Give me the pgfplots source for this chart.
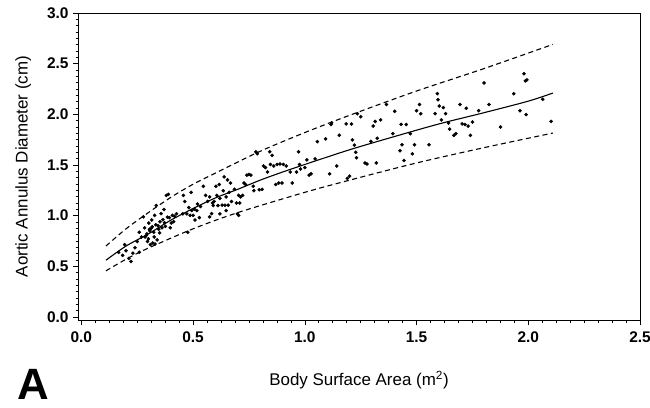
\documentclass[border=0pt]{standalone}
\usepackage{pgfplots}
\pgfplotsset{compat=1.18}
\usepackage{fontspec}
\setmainfont{Liberation Sans}
\begin{document}
\begin{tikzpicture}[x=1bp,y=1bp]
\path[use as bounding box] (0,0) rectangle (650,407);
\begin{axis}[
  at={(78bp,87bp)}, anchor=south west,
  scale only axis, width=562bp, height=307bp,
  xmin=-0.015, xmax=2.5, ymin=-0.03, ymax=3.0,
  xtick={0,0.5,1,1.5,2,2.5}, ytick={0,0.5,1,1.5,2,2.5,3},
  minor tick num=7,
  xtick pos=left, ytick pos=left,
  tick align=outside,
  major tick length=5bp, minor tick length=2.5bp,
  every tick/.style={black, line width=0.6bp},
  axis line style={line width=0.7bp},
  /pgf/number format/.cd, fixed, fixed zerofill, precision=1, assume math mode=true,
  /pgfplots/.cd,
  tick label style={font=\bfseries\fontsize{15.5}{17}\selectfont},
  xticklabel style={yshift=-3bp},
  yticklabel style={xshift=-1bp},
  xlabel={Body Surface Area (m\textsuperscript{2})},
  ylabel={Aortic Annulus Diameter (cm)},
  label style={font=\fontsize{17}{19}\selectfont},
  xlabel style={yshift=-22bp},
  ylabel style={yshift=9bp},
  clip=false,
]
\addplot[only marks, mark=*, mark size=1.6bp, black] coordinates {
(0.167,0.638)(0.185,0.608)(0.194,0.714)(0.200,0.653)(0.213,0.578)(0.222,0.547)
(0.231,0.630)(0.240,0.684)(0.250,0.745)(0.259,0.638)(0.259,0.836)(0.269,0.790)
(0.278,0.988)(0.283,0.880)(0.291,0.805)(0.296,0.745)(0.302,0.927)(0.306,0.851)
(0.309,0.714)(0.315,0.957)(0.317,0.890)(0.320,0.730)(0.324,0.836)(0.328,1.003)
(0.333,0.910)(0.335,1.100)(0.339,0.760)(0.346,0.866)(0.352,0.940)(0.357,1.020)
(0.361,0.880)(0.370,1.060)(0.376,0.895)(0.380,1.200)(0.389,1.210)(0.394,0.980)
(0.398,0.880)(0.407,1.003)(0.413,0.940)(0.417,0.994)(0.426,1.018)(0.402,0.927)
(0.285,0.790)(0.293,0.820)(0.305,0.865)(0.312,0.875)(0.326,0.790)(0.330,0.720)
(0.343,0.900)(0.350,0.830)(0.365,0.960)(0.372,0.930)(0.385,0.985)(0.300,0.770)
(0.454,1.018)(0.457,1.200)(0.463,1.140)(0.472,1.018)(0.476,0.836)(0.481,1.080)
(0.487,1.003)(0.491,1.230)(0.494,1.050)(0.500,1.003)(0.506,1.064)(0.509,0.957)
(0.517,1.050)(0.520,1.115)(0.528,0.980)(0.546,1.290)(0.556,1.200)(0.565,1.140)
(0.574,1.185)(0.583,1.020)(0.587,1.125)(0.594,1.140)(0.602,1.290)(0.606,1.200)
(0.611,1.100)(0.617,1.307)(0.620,1.170)(0.630,1.103)(0.635,1.246)(0.639,1.383)
(0.643,1.103)(0.648,1.185)(0.654,1.353)(0.657,1.103)(0.661,1.230)(0.667,1.322)
(0.672,1.140)(0.685,1.260)(0.694,1.125)(0.698,1.018)(0.704,1.200)(0.709,1.125)
(0.713,1.185)(0.722,1.200)(0.728,1.322)(0.735,1.307)(0.741,1.400)(0.750,1.407)
(0.759,1.400)(0.769,1.290)(0.772,1.246)(0.781,1.630)(0.787,1.610)(0.796,1.255)
(0.574,0.988)(0.620,1.018)(0.648,1.050)(0.704,1.003)(0.533,1.090)(0.590,1.100)
(0.809,1.260)(0.815,1.490)(0.824,1.474)(0.833,1.430)(0.843,1.630)(0.846,1.505)
(0.854,1.595)(0.861,1.490)(0.870,1.307)(0.876,1.505)(0.883,1.322)(0.889,1.510)
(0.898,1.322)(0.904,1.505)(0.917,1.490)(0.935,1.430)(0.944,1.322)(0.963,1.430)
(0.972,1.630)(0.976,1.505)(0.981,1.460)(1.000,1.474)(1.009,1.550)(1.019,1.400)
(1.028,1.413)(1.046,1.560)(1.056,1.730)(1.093,1.757)(1.111,1.413)(1.117,1.900)
(1.120,1.915)(1.143,1.490)(1.154,1.793)(1.185,1.905)(1.190,1.368)(1.200,1.390)
(1.209,1.905)(1.213,1.748)(1.222,1.696)(1.228,1.626)(1.231,1.571)(1.235,2.006)
(1.250,1.976)(1.269,1.520)(1.278,1.510)(1.296,1.733)(1.306,1.884)(1.315,1.930)
(1.320,1.520)(1.324,1.763)(1.339,1.945)(1.365,2.097)(1.394,1.809)(1.402,2.030)
(1.426,1.641)(1.431,1.900)(1.435,1.700)(1.444,1.544)(1.454,1.900)(1.472,1.809)
(1.481,1.610)(1.491,1.700)(1.500,2.036)(1.513,2.097)(1.519,2.006)(1.556,1.700)
(1.583,2.006)(1.593,2.204)(1.596,2.143)(1.602,2.082)(1.611,1.945)(1.620,2.067)
(1.630,2.006)(1.643,1.915)(1.648,1.854)(1.667,1.793)(1.676,1.809)(1.694,2.097)
(1.704,1.905)(1.717,1.900)(1.722,2.060)(1.731,1.884)(1.741,1.793)(1.750,1.924)
(1.778,2.036)(1.802,2.310)(1.824,2.097)(1.876,1.875)(1.935,2.204)(1.963,2.036)
(1.981,2.400)(1.987,2.331)(1.994,2.340)(1.990,1.997)(2.065,2.149)(2.102,1.930)
};
\addplot[black, line width=1.1bp, smooth] coordinates {
(0.11,0.56)(0.2,0.70)(0.3,0.82)(0.4,0.955)(0.5,1.07)(0.6,1.175)(0.7,1.26)
(0.8,1.35)(0.9,1.43)(1.0,1.505)(1.2,1.65)(1.4,1.78)(1.6,1.905)(1.8,2.015)
(2.0,2.13)(2.11,2.21)};
\addplot[black, line width=1.1bp, smooth, dash pattern=on 5bp off 3.5bp] coordinates {
(0.11,0.70)(0.2,0.87)(0.3,1.03)(0.4,1.18)(0.5,1.31)(0.6,1.42)(0.8,1.635)
(1.0,1.82)(1.2,1.99)(1.5,2.23)(1.8,2.45)(2.11,2.69)};
\addplot[black, line width=1.1bp, smooth, dash pattern=on 5bp off 3.5bp] coordinates {
(0.11,0.455)(0.2,0.57)(0.3,0.68)(0.5,0.87)(0.7,1.03)(1.0,1.23)(1.2,1.35)
(1.5,1.52)(1.8,1.67)(2.11,1.815)};
\end{axis}
\node[font=\bfseries\fontsize{44}{44}\selectfont, anchor=base, inner sep=0pt] at (33,8) {A};
\end{tikzpicture}
\end{document}
